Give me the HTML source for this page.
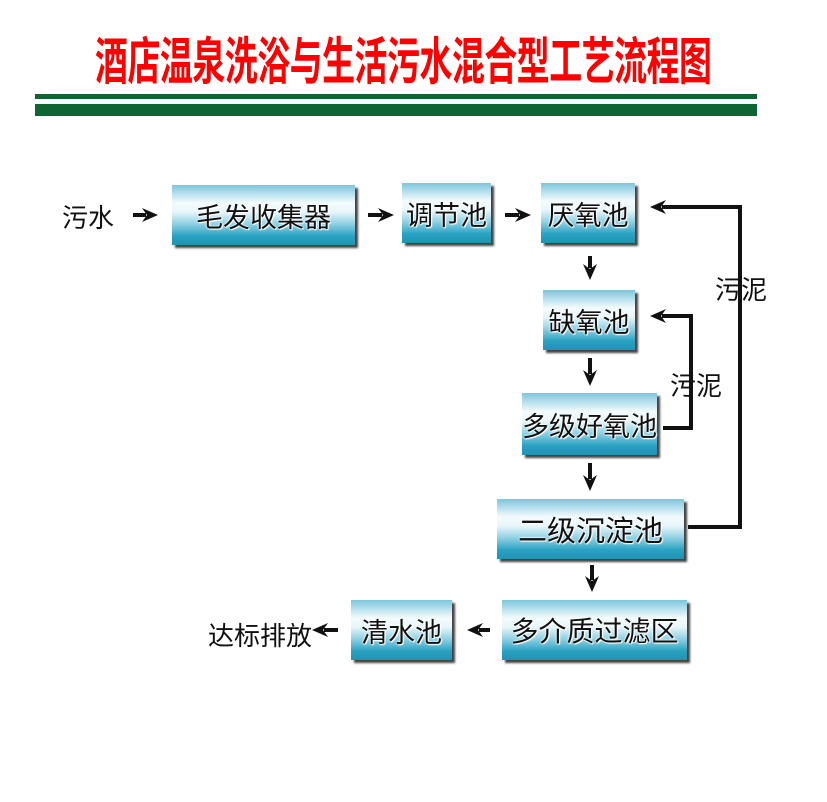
<!DOCTYPE html>
<html><head><meta charset="utf-8"><style>
body{margin:0;width:827px;height:802px;background:#fff;position:relative;overflow:hidden;font-family:"Liberation Sans","Noto Sans CJK SC",sans-serif}
.t{position:absolute;left:95px;top:22px;width:620px;font-size:32px;font-weight:bold;color:#f00;white-space:nowrap;transform-origin:0 0;transform:scale(1.03,1.6);letter-spacing:-0.5px}
.g{position:absolute;left:35px;background:#0f6433;width:722px}
.b{position:absolute;display:flex;align-items:center;justify-content:center;font-size:27px;color:#111;
background:linear-gradient(to bottom,#7cc6dc 0%,#f4fbfd 30%,#e8f6fa 45%,#8ed0e2 65%,#2aa2c2 85%,#1f93b3 100%);
box-shadow:3px 3px 2px #444;text-shadow:0 0 2px #fff,0 0 2px #fff,1px 1px 1px #fff;white-space:nowrap}
.l{position:absolute;font-size:26px;color:#111;white-space:nowrap}
</style></head><body>
<div class="t">酒店温泉洗浴与生活污水混合型工艺流程图</div>
<div class="g" style="top:94px;height:5px"></div>
<div class="g" style="top:104px;height:12px"></div>

<div class="b" style="left:172px;top:185px;width:183px;height:60px">毛发收集器</div>
<div class="b" style="left:402px;top:183px;width:89px;height:60px">调节池</div>
<div class="b" style="left:541px;top:183px;width:94px;height:60px">厌氧池</div>
<div class="b" style="left:543px;top:290px;width:92px;height:60px">缺氧池</div>
<div class="b" style="left:522px;top:393px;width:135px;height:62px">多级好氧池</div>
<div class="b" style="left:497px;top:499px;width:187px;height:60px;font-size:29px">二级沉淀池</div>
<div class="b" style="left:502px;top:600px;width:185px;height:60px;font-size:28px">多介质过滤区</div>
<div class="b" style="left:351px;top:600px;width:101px;height:60px">清水池</div>

<div class="l" style="left:62px;top:198px">污水</div>
<div class="l" style="left:208px;top:616px">达标排放</div>
<div class="l" style="left:715px;top:270px">污泥</div>
<div class="l" style="left:670px;top:366px">污泥</div>

<svg width="827" height="802" style="position:absolute;left:0;top:0" fill="none" stroke="#111" stroke-width="4">
<defs><marker id="a" markerUnits="userSpaceOnUse" markerWidth="16" markerHeight="16" refX="4" refY="8" orient="auto"><path d="M0,1 L16,8 L0,15 L5,8 Z" fill="#111" stroke="none"/></marker></defs>
<line x1="133" y1="215" x2="146" y2="215" marker-end="url(#a)"/>
<line x1="368" y1="215" x2="382" y2="215" marker-end="url(#a)"/>
<line x1="505" y1="215" x2="519" y2="215" marker-end="url(#a)"/>
<line x1="590" y1="256" x2="590" y2="268" marker-end="url(#a)"/>
<line x1="590" y1="358" x2="590" y2="374" marker-end="url(#a)"/>
<line x1="590" y1="463" x2="590" y2="479" marker-end="url(#a)"/>
<line x1="592" y1="565" x2="592" y2="580" marker-end="url(#a)"/>
<line x1="490" y1="630" x2="479" y2="630" marker-end="url(#a)"/>
<line x1="338" y1="630" x2="324" y2="630" marker-end="url(#a)"/>
<polyline points="688,527 740,527 740,207 662,207" marker-end="url(#a)"/>
<polyline points="663,428 691,428 691,316 662,316" marker-end="url(#a)"/>
</svg>
</body></html>
